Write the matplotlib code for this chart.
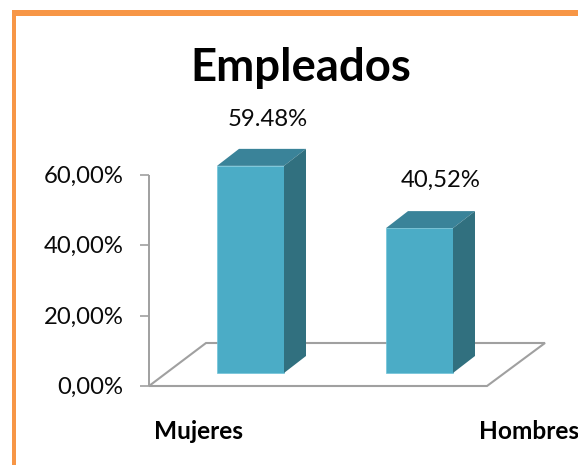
import matplotlib
matplotlib.use("Agg")
import matplotlib.pyplot as plt
from matplotlib.patches import Polygon, Rectangle

categories = ["Mujeres", "Hombres"]
bar_heights = [58.9, 41.2]
value_labels = ["59.48%", "40,52%"]
tick_values = [0, 20, 40, 60]
tick_labels = ["0,00%", "20,00%", "40,00%", "60,00%"]
title = "Empleados"

W, H = 578, 465
plt.rcParams["font.family"] = ["Lato", "DejaVu Sans"]
fig = plt.figure(figsize=(W / 100, H / 100), dpi=100, facecolor="white")
ax = fig.add_axes([0, 0, 1, 1])
PX_Y = 211 / 60        # pixels per percentage point
PX_X = 169             # pixels per category step
ZERO_Y, CAT0_X = 386, 250.5
ax.set_xlim(-CAT0_X / PX_X, (W - CAT0_X) / PX_X)
ax.set_ylim((ZERO_Y - H) / PX_Y, ZERO_Y / PX_Y)
ax.axis("off")
ux, uy = 1 / PX_X, 1 / PX_Y   # one pixel in data units

FRONT = "#4BACC6"; TOP = "#3A8399"; SIDE = "#31707F"; GRID = "#A0A0A0"

# border
ax.add_patch(Polygon([(-CAT0_X*ux + 12*ux, -100), (-CAT0_X*ux + 12*ux, (ZERO_Y-10)*uy),
                      (200, (ZERO_Y-10)*uy), (200, (ZERO_Y-15.5)*uy),
                      (-CAT0_X*ux + 16.5*ux, (ZERO_Y-15.5)*uy), (-CAT0_X*ux + 16.5*ux, -100)],
                     closed=True, fc="#F79646", ec="none", zorder=1, clip_on=True))

# floor and wall
x_axis = (149 - CAT0_X) * ux
floor = [(x_axis, 0), (x_axis + 338*ux, 0), (x_axis + 396*ux, 43*uy), (x_axis + 57*ux, 43*uy)]
ax.add_patch(Polygon(floor, closed=True, fc="none", ec=GRID, lw=1.5, zorder=2, joinstyle="miter"))
ax.plot([x_axis, x_axis], [0, tick_values[-1]], color=GRID, lw=1.4, zorder=2, solid_capstyle="butt")
for v, lab in zip(tick_values, tick_labels):
    ax.plot([x_axis - 9*ux, x_axis], [v, v], color=GRID, lw=1.2, zorder=2, solid_capstyle="butt")
    ax.text(x_axis - 25.5*ux, v - 1.5*uy, lab, ha="right", va="center", fontsize=17.2, color="#0A0A0A")

# bars
half = 33.5 * ux
base = 13 * uy
dx, dy = 22 * ux, 17 * uy
for i, (h, vl) in enumerate(zip(bar_heights, value_labels)):
    l, r, t = i - half, i + half, base + h
    ax.add_patch(Rectangle((l, base), r - l, h, fc=FRONT, ec="#6FC3D8", lw=0.5, zorder=3))
    ax.add_patch(Polygon([(l, t), (r, t), (r + dx, t + dy), (l + dx, t + dy)], closed=True, fc=TOP, ec="none", zorder=3))
    ax.add_patch(Polygon([(r, base), (r + dx, base + dy), (r + dx, t + dy), (r, t)], closed=True, fc=SIDE, ec="none", zorder=3))

ax.text(268*ux - CAT0_X*ux, (ZERO_Y-119.5)*uy, value_labels[0], ha="center", va="center", fontsize=17.2, color="#0A0A0A")
ax.text(441*ux - CAT0_X*ux, (ZERO_Y-180)*uy, value_labels[1], ha="center", va="center", fontsize=17.2, color="#0A0A0A")

ax.text(199*ux - CAT0_X*ux, (ZERO_Y-431)*uy, categories[0], ha="center", va="center", fontsize=17.6, fontweight="bold", color="black")
ax.text(529*ux - CAT0_X*ux, (ZERO_Y-431)*uy, categories[1], ha="center", va="center", fontsize=17.6, fontweight="bold", color="black")
ax.text(301*ux - CAT0_X*ux, (ZERO_Y-67.5)*uy, title, ha="center", va="center", fontsize=32.8, fontweight="bold", color="black")

fig.savefig("out.png", dpi=100)
